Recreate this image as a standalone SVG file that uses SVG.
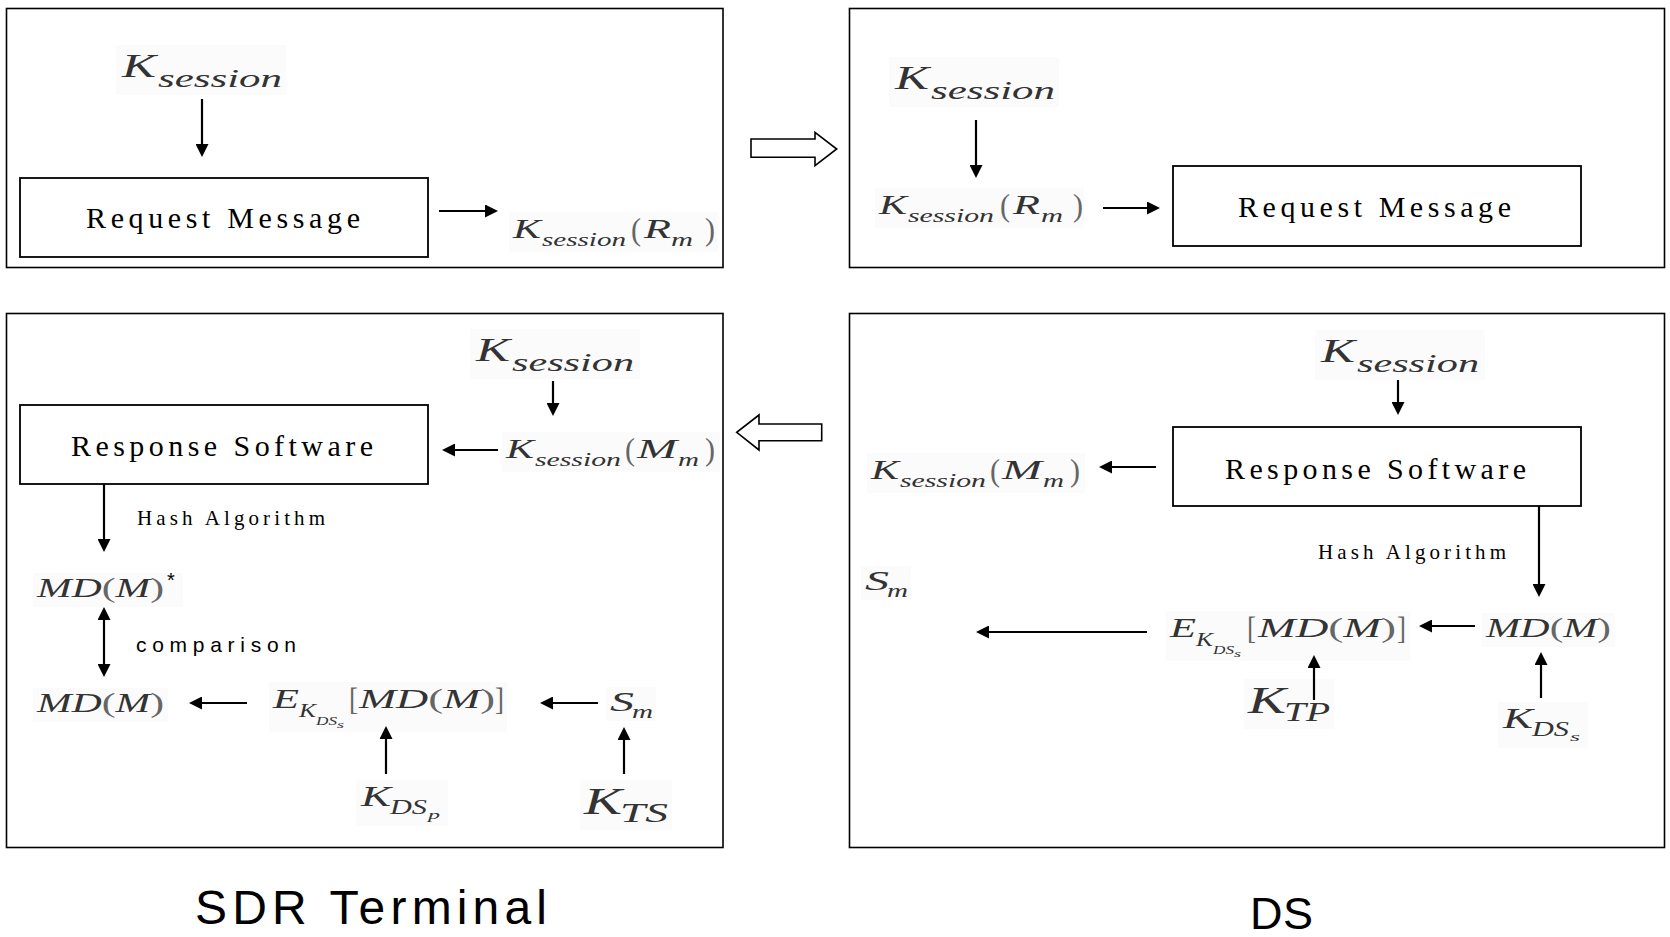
<svg xmlns="http://www.w3.org/2000/svg" width="1670" height="937" viewBox="0 0 1670 937">
  <defs>
    <style>
      .panel { fill: #fff; stroke: #000; stroke-width: 1.6; }
      .box { fill: #fff; stroke: #000; stroke-width: 1.8; }
      .lbl { font-family: "Liberation Serif", "Times New Roman", serif; fill: #000; }
      .cap { font-family: "Liberation Sans", Arial, sans-serif; fill: #000; }
      .mi { font-family: "Liberation Serif", "DejaVu Serif", serif; font-style: italic; fill: #333; }
      .mp { font-family: "Liberation Serif", "DejaVu Serif", serif; font-style: normal; fill: #666; }
      .mbg { fill: #fbfbfb; }
      .wire { fill: none; stroke: #000; stroke-width: 2.2; marker-end: url(#ah); }
      .wire2 { fill: none; stroke: #000; stroke-width: 2.2; marker-start: url(#ah); marker-end: url(#ah); }
      .hollow { fill: #fff; stroke: #000; stroke-width: 1.6; stroke-linejoin: miter; }
    </style>
    <marker id="ah" viewBox="0 0 13 13" refX="2" refY="6.5" markerWidth="13" markerHeight="13" markerUnits="userSpaceOnUse" orient="auto-start-reverse">
      <path d="M0,0 L13,6.5 L0,13 z" fill="#000"/>
    </marker>
  </defs>

  <rect width="1670" height="937" fill="#fff"/>

  <!-- four panels -->
  <g id="panels">
    <rect id="panel-tl" class="panel" x="6.5" y="8.5" width="716.5" height="259"/>
    <rect id="panel-tr" class="panel" x="849.5" y="8.5" width="815" height="259"/>
    <rect id="panel-bl" class="panel" x="6.5" y="313.5" width="716.5" height="534"/>
    <rect id="panel-br" class="panel" x="849.5" y="313.5" width="815" height="534"/>
  </g>

  <!-- boxes -->
  <g id="req-tl">
    <rect class="box" x="20" y="178" width="408" height="79"/>
    <text class="lbl" x="86" y="228" font-size="30" textLength="274" lengthAdjust="spacing">Request Message</text>
  </g>
  <g id="req-tr">
    <rect class="box" x="1173" y="166" width="408" height="80"/>
    <text class="lbl" x="1238" y="217" font-size="30" textLength="273" lengthAdjust="spacing">Request Message</text>
  </g>
  <g id="resp-bl">
    <rect class="box" x="20" y="405" width="408" height="79"/>
    <text class="lbl" x="71" y="456" font-size="30" textLength="302" lengthAdjust="spacing">Response Software</text>
  </g>
  <g id="resp-br">
    <rect class="box" x="1173" y="427" width="408" height="79"/>
    <text class="lbl" x="1225" y="479" font-size="30" textLength="301" lengthAdjust="spacing">Response Software</text>
  </g>

  <!-- edge labels -->
  <g id="hash-bl"><text class="lbl" x="137" y="525" font-size="21" textLength="188" lengthAdjust="spacing">Hash Algorithm</text></g>
  <g id="hash-br"><text class="lbl" x="1318" y="559" font-size="21" textLength="188" lengthAdjust="spacing">Hash Algorithm</text></g>
  <g id="compare"><text class="cap" x="136" y="652" font-size="21" textLength="160" lengthAdjust="spacing">comparison</text></g>

  <!-- session key, large -->
  <g id="ks-tl" transform="translate(122,77)">
    <rect class="mbg" x="-6" y="-32" width="170" height="50"/>
    <text class="mi" x="0" y="0" font-size="34" textLength="34" lengthAdjust="spacingAndGlyphs">K</text>
    <text class="mi" x="36" y="10" font-size="25" textLength="124" lengthAdjust="spacingAndGlyphs">session</text>
  </g>
  <g id="ks-tr" transform="translate(895,89)">
    <rect class="mbg" x="-6" y="-32" width="170" height="50"/>
    <text class="mi" x="0" y="0" font-size="34" textLength="34" lengthAdjust="spacingAndGlyphs">K</text>
    <text class="mi" x="36" y="10" font-size="25" textLength="124" lengthAdjust="spacingAndGlyphs">session</text>
  </g>
  <g id="ks-bl" transform="translate(476,361)">
    <rect class="mbg" x="-6" y="-32" width="170" height="50"/>
    <text class="mi" x="0" y="0" font-size="34" textLength="34" lengthAdjust="spacingAndGlyphs">K</text>
    <text class="mi" x="36" y="10" font-size="25" textLength="122" lengthAdjust="spacingAndGlyphs">session</text>
  </g>
  <g id="ks-br" transform="translate(1321,362)">
    <rect class="mbg" x="-6" y="-32" width="170" height="50"/>
    <text class="mi" x="0" y="0" font-size="34" textLength="34" lengthAdjust="spacingAndGlyphs">K</text>
    <text class="mi" x="36" y="10" font-size="25" textLength="122" lengthAdjust="spacingAndGlyphs">session</text>
  </g>

  <!-- encrypted request -->
  <g id="ksr-tl" transform="translate(513,238)">
    <rect class="mbg" x="-4" y="-26" width="209" height="40"/>
    <text class="mi" x="0" y="0" font-size="28" textLength="28" lengthAdjust="spacingAndGlyphs">K</text>
    <text class="mi" x="29" y="8" font-size="19" textLength="84" lengthAdjust="spacingAndGlyphs">session</text>
    <text class="mp" x="118" y="2" font-size="32" textLength="10" lengthAdjust="spacingAndGlyphs">(</text>
    <text class="mi" x="131" y="0" font-size="28" textLength="27" lengthAdjust="spacingAndGlyphs">R</text>
    <text class="mi" x="158" y="8" font-size="19" textLength="22" lengthAdjust="spacingAndGlyphs">m</text>
    <text class="mp" x="192" y="2" font-size="32" textLength="10" lengthAdjust="spacingAndGlyphs">)</text>
  </g>
  <g id="ksr-tr" transform="translate(879,214)">
    <rect class="mbg" x="-4" y="-26" width="209" height="40"/>
    <text class="mi" x="0" y="0" font-size="28" textLength="28" lengthAdjust="spacingAndGlyphs">K</text>
    <text class="mi" x="29" y="8" font-size="19" textLength="86" lengthAdjust="spacingAndGlyphs">session</text>
    <text class="mp" x="121" y="2" font-size="32" textLength="10" lengthAdjust="spacingAndGlyphs">(</text>
    <text class="mi" x="134" y="0" font-size="28" textLength="27" lengthAdjust="spacingAndGlyphs">R</text>
    <text class="mi" x="162" y="8" font-size="19" textLength="22" lengthAdjust="spacingAndGlyphs">m</text>
    <text class="mp" x="194" y="2" font-size="32" textLength="10" lengthAdjust="spacingAndGlyphs">)</text>
  </g>

  <!-- encrypted software -->
  <g id="ksm-bl" transform="translate(506,458)">
    <rect class="mbg" x="-4" y="-26" width="218" height="40"/>
    <text class="mi" x="0" y="0" font-size="28" textLength="28" lengthAdjust="spacingAndGlyphs">K</text>
    <text class="mi" x="29" y="8" font-size="19" textLength="86" lengthAdjust="spacingAndGlyphs">session</text>
    <text class="mp" x="119" y="2" font-size="32" textLength="10" lengthAdjust="spacingAndGlyphs">(</text>
    <text class="mi" x="131" y="0" font-size="28" textLength="40" lengthAdjust="spacingAndGlyphs">M</text>
    <text class="mi" x="172" y="8" font-size="19" textLength="21" lengthAdjust="spacingAndGlyphs">m</text>
    <text class="mp" x="199" y="2" font-size="32" textLength="10" lengthAdjust="spacingAndGlyphs">)</text>
  </g>
  <g id="ksm-br" transform="translate(871,479)">
    <rect class="mbg" x="-4" y="-26" width="218" height="40"/>
    <text class="mi" x="0" y="0" font-size="28" textLength="28" lengthAdjust="spacingAndGlyphs">K</text>
    <text class="mi" x="29" y="8" font-size="19" textLength="86" lengthAdjust="spacingAndGlyphs">session</text>
    <text class="mp" x="119" y="2" font-size="32" textLength="10" lengthAdjust="spacingAndGlyphs">(</text>
    <text class="mi" x="131" y="0" font-size="28" textLength="40" lengthAdjust="spacingAndGlyphs">M</text>
    <text class="mi" x="172" y="8" font-size="19" textLength="21" lengthAdjust="spacingAndGlyphs">m</text>
    <text class="mp" x="199" y="2" font-size="32" textLength="10" lengthAdjust="spacingAndGlyphs">)</text>
  </g>

  <!-- message digests -->
  <g id="mdstar-bl" transform="translate(37,597)">
    <rect class="mbg" x="-4" y="-24" width="150" height="34"/>
    <text class="mi" x="0" y="0" font-size="28" textLength="127" lengthAdjust="spacingAndGlyphs">MD<tspan class="mp">(</tspan>M<tspan class="mp">)</tspan></text>
    <text class="cap" x="130" y="-10" font-size="20">*</text>
  </g>
  <g id="md-bl" transform="translate(37,712)">
    <rect class="mbg" x="-4" y="-24" width="135" height="34"/>
    <text class="mi" x="0" y="0" font-size="28" textLength="127" lengthAdjust="spacingAndGlyphs">MD<tspan class="mp">(</tspan>M<tspan class="mp">)</tspan></text>
  </g>
  <g id="md-br" transform="translate(1486,637)">
    <rect class="mbg" x="-4" y="-24" width="133" height="34"/>
    <text class="mi" x="0" y="0" font-size="28" textLength="125" lengthAdjust="spacingAndGlyphs">MD<tspan class="mp">(</tspan>M<tspan class="mp">)</tspan></text>
  </g>

  <!-- signed digests -->
  <g id="sig-bl" transform="translate(273,708)">
    <rect class="mbg" x="-4" y="-26" width="238" height="50"/>
    <text class="mi" x="0" y="0" font-size="28" textLength="26" lengthAdjust="spacingAndGlyphs">E</text>
    <text class="mi" x="26" y="9" font-size="19" textLength="17" lengthAdjust="spacingAndGlyphs">K</text>
    <text class="mi" x="43" y="17" font-size="13" textLength="21" lengthAdjust="spacingAndGlyphs">DS</text>
    <text class="mi" x="64" y="20" font-size="10" textLength="7" lengthAdjust="spacingAndGlyphs">s</text>
    <text class="mp" x="76" y="2" font-size="32" textLength="9" lengthAdjust="spacingAndGlyphs">[</text>
    <text class="mi" x="86" y="0" font-size="28" textLength="136" lengthAdjust="spacingAndGlyphs">MD<tspan class="mp">(</tspan>M<tspan class="mp">)</tspan></text>
    <text class="mp" x="222" y="2" font-size="32" textLength="9" lengthAdjust="spacingAndGlyphs">]</text>
  </g>
  <g id="sig-br" transform="translate(1170,637)">
    <rect class="mbg" x="-4" y="-26" width="244" height="50"/>
    <text class="mi" x="0" y="0" font-size="28" textLength="26" lengthAdjust="spacingAndGlyphs">E</text>
    <text class="mi" x="26" y="9" font-size="19" textLength="17" lengthAdjust="spacingAndGlyphs">K</text>
    <text class="mi" x="43" y="17" font-size="13" textLength="21" lengthAdjust="spacingAndGlyphs">DS</text>
    <text class="mi" x="64" y="20" font-size="10" textLength="7" lengthAdjust="spacingAndGlyphs">s</text>
    <text class="mp" x="77" y="2" font-size="32" textLength="9" lengthAdjust="spacingAndGlyphs">[</text>
    <text class="mi" x="88" y="0" font-size="28" textLength="138" lengthAdjust="spacingAndGlyphs">MD<tspan class="mp">(</tspan>M<tspan class="mp">)</tspan></text>
    <text class="mp" x="227" y="2" font-size="32" textLength="9" lengthAdjust="spacingAndGlyphs">]</text>
  </g>

  <!-- signatures -->
  <g id="sm-bl" transform="translate(610,711)">
    <rect class="mbg" x="-4" y="-24" width="50" height="34"/>
    <text class="mi" x="0" y="0" font-size="28" textLength="24" lengthAdjust="spacingAndGlyphs">S</text>
    <text class="mi" x="22" y="7" font-size="19" textLength="21" lengthAdjust="spacingAndGlyphs">m</text>
  </g>
  <g id="sm-br" transform="translate(865,590)">
    <rect class="mbg" x="-4" y="-24" width="50" height="34"/>
    <text class="mi" x="0" y="0" font-size="28" textLength="24" lengthAdjust="spacingAndGlyphs">S</text>
    <text class="mi" x="22" y="7" font-size="19" textLength="21" lengthAdjust="spacingAndGlyphs">m</text>
  </g>

  <!-- keys -->
  <g id="kdsp-bl" transform="translate(361,806)">
    <rect class="mbg" x="-5" y="-26" width="92" height="46"/>
    <text class="mi" x="0" y="0" font-size="30" textLength="30" lengthAdjust="spacingAndGlyphs">K</text>
    <text class="mi" x="29" y="8" font-size="20" textLength="37" lengthAdjust="spacingAndGlyphs">DS</text>
    <text class="mi" x="67" y="13" font-size="13" textLength="12" lengthAdjust="spacingAndGlyphs">p</text>
  </g>
  <g id="kts-bl" transform="translate(584,814)">
    <rect class="mbg" x="-4" y="-34" width="92" height="50"/>
    <text class="mi" x="0" y="0" font-size="38" textLength="38" lengthAdjust="spacingAndGlyphs">K</text>
    <text class="mi" x="36" y="8" font-size="27" textLength="48" lengthAdjust="spacingAndGlyphs">TS</text>
  </g>
  <g id="ktp-br" transform="translate(1248,713)">
    <rect class="mbg" x="-4" y="-34" width="90" height="50"/>
    <text class="mi" x="0" y="0" font-size="38" textLength="38" lengthAdjust="spacingAndGlyphs">K</text>
    <text class="mi" x="36" y="8" font-size="27" textLength="46" lengthAdjust="spacingAndGlyphs">TP</text>
  </g>
  <g id="kdss-br" transform="translate(1503,728)">
    <rect class="mbg" x="-5" y="-26" width="90" height="46"/>
    <text class="mi" x="0" y="0" font-size="30" textLength="30" lengthAdjust="spacingAndGlyphs">K</text>
    <text class="mi" x="29" y="8" font-size="20" textLength="37" lengthAdjust="spacingAndGlyphs">DS</text>
    <text class="mi" x="67" y="13" font-size="13" textLength="10" lengthAdjust="spacingAndGlyphs">s</text>
  </g>

  <!-- connectors, drawn over the formula backgrounds -->
  <g id="connectors">
    <line class="wire" x1="202" y1="99" x2="202" y2="146"/>
    <line class="wire" x1="439" y1="211" x2="487" y2="211"/>
    <line class="wire" x1="976" y1="120" x2="976" y2="167"/>
    <line class="wire" x1="1103" y1="208" x2="1149" y2="208"/>
    <line class="wire" x1="553" y1="381" x2="553" y2="405"/>
    <line class="wire" x1="498" y1="450" x2="453" y2="450"/>
    <line class="wire" x1="104" y1="484" x2="104" y2="541"/>
    <line class="wire2" x1="104" y1="618" x2="104" y2="666"/>
    <line class="wire" x1="247" y1="703" x2="200" y2="703"/>
    <line class="wire" x1="598" y1="703" x2="551" y2="703"/>
    <line class="wire" x1="386" y1="774" x2="386" y2="737"/>
    <line class="wire" x1="624" y1="774" x2="624" y2="738"/>
    <line class="wire" x1="1398" y1="380" x2="1398" y2="404"/>
    <line class="wire" x1="1156" y1="467" x2="1110" y2="467"/>
    <line class="wire" x1="1539" y1="506" x2="1539" y2="586"/>
    <line class="wire" x1="1147" y1="632" x2="987" y2="632"/>
    <line class="wire" x1="1475" y1="626" x2="1430" y2="626"/>
    <line class="wire" x1="1314" y1="700" x2="1314" y2="666"/>
    <line class="wire" x1="1541" y1="698" x2="1541" y2="663"/>
    <polygon id="flow-right" class="hollow" points="751,139 815,139 815,132.3 836.7,149 815,165.7 815,157.3 751,157.3"/>
    <polygon id="flow-left" class="hollow" points="821.7,424 759,424 759,415 736.7,432.3 759,450 759,440.7 821.7,440.7"/>
  </g>

  <!-- side captions -->
  <g id="cap-sdr"><text class="cap" x="195" y="924" font-size="48" textLength="352" lengthAdjust="spacing">SDR Terminal</text></g>
  <g id="cap-ds"><text class="cap" x="1250" y="929" font-size="45" textLength="63" lengthAdjust="spacing">DS</text></g>
</svg>
